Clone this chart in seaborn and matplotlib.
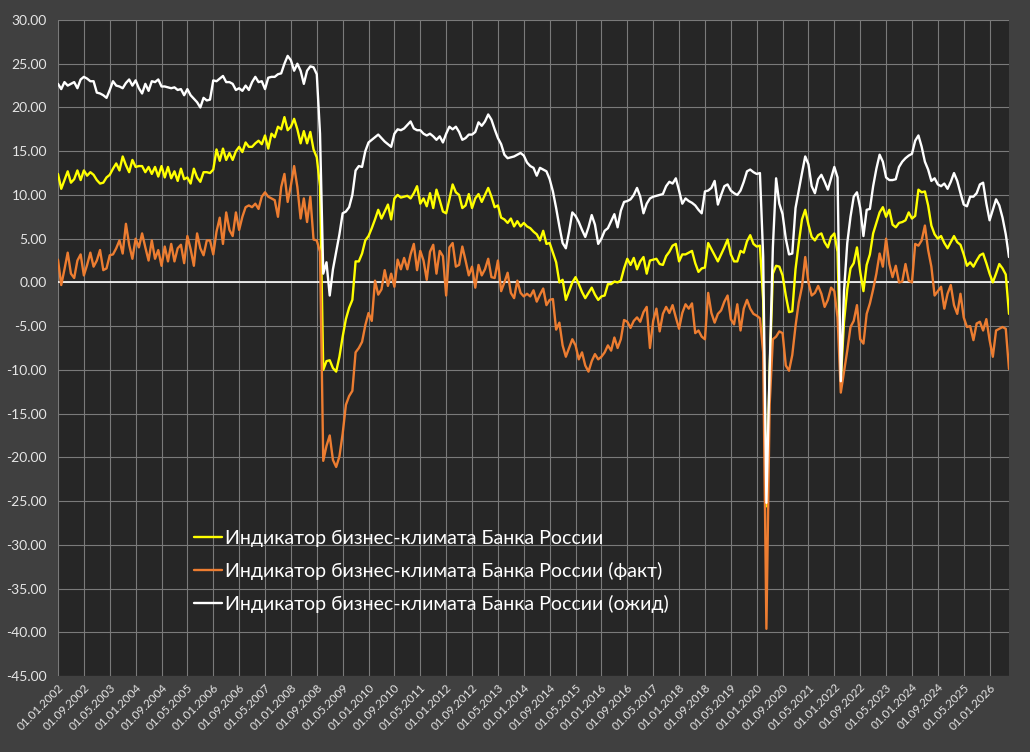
import numpy as np
import pandas as pd
import matplotlib
matplotlib.use('Agg')
import matplotlib.pyplot as plt
import seaborn as sns

# monthly data, 01.01.2002 onwards (8 values per row = one grid interval)

expect = [
    22.7, 22.1, 22.9, 22.5, 22.7, 22.9, 22.2, 23.2,
    23.5, 23.3, 23.0, 23.0, 21.7, 21.6, 21.4, 21.1,
    22.0, 23.0, 22.5, 22.4, 22.2, 22.8, 23.2, 22.5,
    23.1, 22.2, 21.6, 22.7, 21.9, 23.0, 22.9, 23.2,
    22.4, 22.4, 22.3, 22.2, 22.3, 22.0, 22.1, 21.4,
    22.1, 21.4, 21.0, 20.6, 20.0, 21.1, 20.8, 20.9,
    23.1, 23.0, 23.3, 23.6, 22.9, 22.9, 22.7, 22.0,
    22.2, 21.9, 22.5, 22.0, 22.9, 23.5, 22.9, 23.0,
    22.1, 23.4, 23.5, 23.5, 23.8, 23.9, 25.0, 25.9,
    25.4, 24.2, 25.0, 24.2, 22.7, 24.2, 24.7, 24.6,
    23.8, 17.0, 1.0, 2.3, -1.5, 1.5, 3.5, 5.5,
    7.9, 8.1, 8.6, 10.0, 12.8, 13.3, 13.2, 15.0,
    16.0, 16.3, 16.6, 16.9, 16.5, 16.1, 15.8, 15.5,
    17.0, 17.5, 17.4, 17.6, 18.0, 18.4, 17.6, 17.4,
    17.4, 17.0, 16.8, 17.0, 16.7, 16.3, 16.7, 16.0,
    17.0, 17.8, 17.5, 17.8, 17.2, 16.3, 16.5, 16.9,
    16.9, 17.2, 18.3, 17.9, 18.4, 19.2, 18.6, 17.5,
    16.5, 15.8, 14.6, 14.2, 14.3, 14.4, 14.6, 14.8,
    14.5, 13.7, 13.3, 13.1, 12.2, 13.1, 12.9, 12.7,
    11.8, 10.4, 8.5, 6.4, 4.5, 3.9, 5.8, 8.0,
    7.6, 6.9, 6.0, 5.2, 6.3, 7.7, 6.6, 4.4,
    5.0, 5.9, 6.2, 7.0, 7.8, 6.3, 8.2, 9.2,
    9.3, 9.5, 10.0, 10.8, 9.8, 7.9, 9.0, 9.6,
    9.8, 9.9, 10.0, 10.1, 11.0, 11.5, 11.3, 11.9,
    10.5, 9.0, 9.6, 9.3, 9.1, 8.8, 8.3, 7.9,
    10.4, 10.5, 10.8, 11.6, 8.9, 10.0, 11.0, 11.2,
    10.5, 10.2, 10.0, 10.5, 11.5, 12.7, 12.9, 12.6,
    12.4, 12.5, 3.0, -25.2, -10.0, 4.0, 11.9, 9.0,
    7.8, 5.0, 3.2, 3.3, 8.5, 10.5, 12.5, 14.4,
    13.5, 11.0, 10.2, 11.8, 12.3, 11.5, 10.6, 11.9,
    13.2, 12.0, -11.3, -1.0, 4.5, 7.5, 9.8, 10.3,
    8.5, 5.3, 8.3, 8.4, 11.0, 13.0, 14.6, 13.8,
    12.0, 11.7, 11.7, 11.8, 13.2, 13.8, 14.2, 14.5,
    14.7, 16.2, 16.8, 15.5, 13.8, 12.9, 11.6, 11.9,
    11.2, 11.0, 11.3, 10.7, 11.5, 12.5, 11.6, 10.2,
    8.9, 8.7, 9.8, 9.8, 10.2, 11.2, 11.4, 9.0,
    7.1, 8.3, 9.5, 8.8, 7.4, 5.5, 2.9,
]

climate = [
    12.4, 10.7, 11.7, 12.7, 11.4, 11.8, 12.8, 11.7,
    12.8, 12.2, 12.6, 12.3, 11.7, 11.3, 11.4, 12.0,
    12.3, 13.0, 13.6, 12.8, 14.4, 13.4, 12.6, 14.0,
    13.2, 13.3, 13.3, 12.6, 13.2, 12.4, 13.2, 12.1,
    13.3, 12.0, 13.2, 11.9, 12.7, 11.6, 13.0, 11.8,
    12.0, 11.3, 13.0, 12.0, 11.5, 12.6, 12.6, 12.5,
    12.9, 15.2, 13.9, 15.3, 14.0, 14.8, 14.0, 15.0,
    15.5, 14.9, 16.0, 15.5, 15.5, 15.9, 16.2, 15.8,
    16.8, 15.3, 17.0, 16.6, 17.8, 17.5, 18.9, 17.4,
    17.8, 18.7, 17.5, 15.9, 17.3, 15.9, 17.2, 15.2,
    14.3, 11.0, -10.0, -9.0, -8.9, -9.8, -10.2, -8.5,
    -6.2, -4.2, -2.9, -2.0, 2.4, 2.4, 3.3, 4.8,
    5.3, 6.2, 7.2, 8.3, 7.3, 8.1, 8.9, 7.2,
    9.6, 10.0, 9.7, 9.8, 9.9, 9.6, 10.2, 11.0,
    9.0, 9.6, 8.7, 10.2, 8.5, 10.6, 9.4, 8.1,
    7.9, 9.5, 11.2, 10.3, 10.0, 8.5, 8.8, 10.1,
    8.5, 9.6, 10.1, 9.2, 10.0, 10.8, 9.8, 8.6,
    8.8, 7.4, 7.2, 6.8, 7.3, 6.4, 7.0, 6.4,
    6.8, 6.4, 6.2, 5.8, 5.5, 4.8, 5.9, 4.4,
    4.5, 3.4, 2.3, 0.0, 0.3, -2.0, -1.0, 0.0,
    0.6, -0.2, -1.1, -1.8, -1.2, -0.6, -1.4, -2.0,
    -1.6, -1.5, -0.2, -0.2, 0.1, 0.0, 0.2, 1.6,
    2.7, 2.0, 2.8, 1.5, 2.4, 2.9, 1.0, 2.5,
    2.6, 2.7, 2.1, 2.0, 3.0, 3.5, 4.2, 4.4,
    2.4, 3.2, 3.2, 3.4, 3.6, 2.2, 1.2, 1.6,
    1.7, 4.5, 3.8, 3.1, 2.4, 3.2, 4.0, 4.9,
    3.2, 2.4, 2.4, 3.6, 3.4, 4.7, 5.4, 4.4,
    4.1, 4.2, -2.0, -25.6, -10.0, 1.0, 1.9, 1.8,
    0.8, -1.5, -3.4, -3.3, 1.5, 4.5, 7.2, 8.3,
    6.6, 5.2, 4.8, 5.4, 5.6, 4.6, 4.0, 5.2,
    5.6, 3.5, -11.2, -4.5, -0.8, 1.6, 2.2, 4.0,
    1.2, -1.0, 2.0, 3.2, 5.6, 6.8, 8.0, 8.6,
    7.5, 8.3, 6.6, 6.3, 6.8, 6.9, 7.1, 8.0,
    7.3, 7.6, 10.6, 10.3, 10.4, 8.8, 6.5, 5.5,
    5.0, 5.3, 4.5, 3.9, 4.6, 5.3, 4.6, 4.3,
    3.2, 1.9, 2.3, 1.8, 2.5, 3.1, 3.3, 2.2,
    1.0, 0.0, 1.0, 2.1, 1.6, 0.9, -3.6,
]

actual = [
    2.6, -0.3, 1.5, 3.4, 1.0, 0.5, 2.5, 3.2,
    0.8, 2.0, 3.4, 1.8, 2.5, 3.7, 1.4, 1.6,
    3.1, 3.2, 3.9, 4.8, 3.3, 6.7, 4.3, 2.7,
    5.0, 4.0, 5.6, 4.0, 2.5, 4.8, 2.7, 3.7,
    1.9, 4.1, 2.4, 4.4, 2.4, 3.9, 4.3, 2.2,
    5.3, 3.8, 1.9, 5.6, 3.9, 3.1, 4.8, 4.8,
    3.2, 5.8, 7.4, 4.4, 8.0, 6.0, 5.3, 8.0,
    6.0, 7.5, 8.6, 8.8, 8.6, 9.0, 8.4, 9.8,
    10.3, 9.8, 9.6, 9.4, 7.5, 10.9, 12.4, 9.2,
    11.1, 13.3, 10.9, 7.3, 9.6, 6.9, 9.8, 4.9,
    4.8, 3.5, -20.4, -18.7, -17.5, -20.3, -21.1, -19.9,
    -17.3, -14.0, -13.0, -12.4, -8.0, -7.5, -6.8, -4.9,
    -3.5, -4.4, 0.2, -1.4, -0.8, 1.4, -0.4, 1.0,
    -0.5, 2.6, 1.5, 2.8, 1.5, 3.2, 4.4, 1.4,
    3.6, 2.5, 0.3, 3.5, 4.3, 1.0, 3.6, 3.0,
    -1.5, 4.0, 4.5, 1.8, 2.0, 4.1, 2.5, 0.8,
    1.8, -0.6, 2.0, 0.8, 1.5, 2.7, 0.6, 0.5,
    2.5, -1.0, 0.0, 1.1, -1.2, -1.8, 0.2, -1.2,
    -1.6, -1.3, -1.6, -0.9, -2.2, -1.4, -0.7, -2.6,
    -2.0, -1.9, -5.4, -4.6, -7.2, -8.5, -7.5, -6.5,
    -7.2, -8.8, -8.0, -9.5, -10.2, -9.0, -8.2, -8.8,
    -8.5, -8.0, -7.2, -7.8, -6.3, -7.5, -6.5, -4.3,
    -4.5, -5.2, -4.4, -4.0, -4.5, -3.4, -2.8, -7.5,
    -4.4, -3.0, -5.6, -3.6, -2.8, -3.5, -2.6, -4.0,
    -5.3, -3.5, -2.5, -3.0, -2.4, -5.8, -5.5, -6.2,
    -6.5, -1.2, -3.5, -4.6, -3.6, -3.2, -2.2, -1.5,
    -4.2, -4.8, -2.5, -5.5, -3.0, -2.0, -3.0, -3.6,
    -3.8, -4.1, -8.0, -39.6, -14.0, -6.5, -6.2, -5.6,
    -5.8, -9.5, -10.1, -8.3, -5.0, -2.3, -0.5, 2.9,
    0.0, -1.5, -1.2, -0.4, -1.3, -2.8, -2.0, -0.6,
    -1.0, -4.0, -12.6, -10.2, -7.8, -5.1, -4.4, -2.6,
    -6.5, -7.0, -3.6, -2.4, -0.8, 1.0, 3.3, 1.8,
    5.0, 2.1, 0.6, 1.9, 0.0, 0.1, 2.1, 0.2,
    0.0, 4.4, 4.2, 4.8, 6.5, 3.7, 1.8, -1.5,
    -1.0, -0.5, -3.0, -1.3, -0.3, -2.6, -3.6, -1.3,
    -4.0, -5.1, -5.0, -6.6, -4.7, -4.5, -5.5, -4.2,
    -6.6, -8.5, -5.5, -5.3, -5.1, -5.3, -9.9,
]

labels = ['Индикатор бизнес-климата Банка России',
          'Индикатор бизнес-климата Банка России (факт)',
          'Индикатор бизнес-климата Банка России (ожид)']
colors = ['#ffff00', '#ed7d31', '#ffffff']

n = len(climate)
dates = pd.date_range('2002-01-01', periods=n, freq='MS')
idx = np.arange(n)

sns.set_style('dark')
plt.rcParams['font.family'] = ['Lato', 'DejaVu Sans']

fig = plt.figure(figsize=(10.3, 7.52), dpi=100, facecolor='#404040')
ax = fig.add_axes([58 / 1030, 1 - 676 / 752, 951 / 1030, 656 / 752])
ax.set_facecolor('#262626')

for vals, lab, col in zip([climate, actual, expect], labels, colors):
    sns.lineplot(x=idx, y=vals, color=col, linewidth=1.7, label=lab, ax=ax)

ax.set_xlim(0, n - 1)
ax.set_ylim(-45, 30)
ax.set_yticks(np.arange(-45, 31, 5))
ax.set_yticklabels([f'{v:.2f}' for v in np.arange(-45, 31, 5)])
xt = idx[::8]
ax.set_xticks(xt)
ax.set_xticklabels([d.strftime('%d.%m.%Y') for d in dates[::8]],
                   rotation=45, ha='right', rotation_mode='anchor')
ax.tick_params(axis='y', colors='#e6e6e6', labelsize=10, length=0, pad=8)
ax.tick_params(axis='x', colors='#e6e6e6', labelsize=8.5, length=0, pad=4)

ax.grid(True, color='#7a7a7a', linewidth=0.8)
ax.axhline(0, color='#ffffff', linewidth=1.2, zorder=1.5)
for s in ax.spines.values():
    s.set_visible(False)
ax.set_xlabel('')
ax.set_ylabel('')

leg = ax.legend(loc='lower left', bbox_to_anchor=(0.125, 0.07), frameon=False,
                fontsize=14, handlelength=1.4, handletextpad=0.2, labelspacing=0.75)
for t in leg.get_texts():
    t.set_color('#ffffff')

fig.savefig('out.png', dpi=100, facecolor=fig.get_facecolor())
